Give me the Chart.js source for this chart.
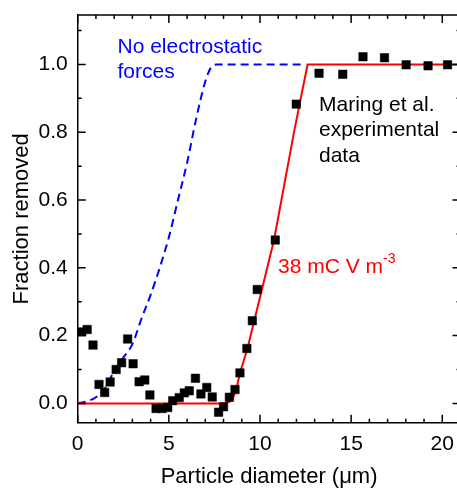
<!DOCTYPE html>
<html>
<head>
<meta charset="utf-8">
<script src="https://cdn.jsdelivr.net/npm/chart.js@4.4.0/dist/chart.umd.min.js"></script>
<style>
html, body { margin: 0; padding: 0; overflow: hidden; background: #fff; }
#wrap { position: relative; width: 457px; height: 490px; overflow: hidden; }
canvas { position: absolute; left: 0; top: 0; }
.note { position: absolute; font: 21px 'Liberation Sans', Arial, sans-serif; line-height: 25.6px; white-space: nowrap; }
.note sup { font-size: 14px; position: relative; top: -10px; vertical-align: baseline; }
</style>
</head>
<body>
<div id="wrap">
  <canvas id="chart" width="467" height="490"></canvas>
  <div class="note" style="left:117.5px; top:32.6px; color:#0000ff;">No electrostatic<br>forces</div>
  <div class="note" style="left:319px; top:90.6px; color:#000;">Maring et al.<br>experimental<br>data</div>
  <div class="note" style="left:278px; top:253.2px; color:#ff0000;">38 mC V m<sup>-3</sup></div>
</div>
<script>
// measured points (Maring et al.)
const expX = [0.22, 0.52, 0.84, 1.17, 1.48, 1.78, 2.11, 2.41, 2.74, 3.04, 3.37, 3.68, 3.96, 4.30,
              4.63, 4.94, 5.21, 5.57, 5.85, 6.12, 6.46, 6.76, 7.08, 7.38, 7.73, 8.00, 8.32, 8.63,
              8.90, 9.28, 9.58, 9.85, 10.84, 11.99, 13.24, 14.54, 15.65, 16.83, 18.02, 19.22, 20.29];
const expY = [0.211, 0.218, 0.172, 0.056, 0.032, 0.063, 0.100, 0.120, 0.190, 0.117, 0.064, 0.069, 0.025, -0.015,
              -0.015, -0.012, 0.008, 0.017, 0.031, 0.037, 0.074, 0.028, 0.047, 0.019, -0.026, -0.010, 0.018, 0.041,
              0.090, 0.162, 0.244, 0.336, 0.482, 0.883, 0.974, 0.971, 1.023, 1.020, 0.999, 0.996, 0.999];

// model with 38 mC V m^-3
const fitX = [0, 8.1, 8.45, 8.7, 8.9, 9.31, 10.77, 11.89, 12.61, 21];
const fitY = [0, 0, 0.008, 0.04, 0.09, 0.161, 0.482, 0.807, 1.0, 1.0];

// model without electrostatic forces
const noEsX = [0, 0.5, 1, 1.5, 2, 2.5, 3, 3.5, 4, 4.5, 5, 5.5, 6, 6.5, 7, 7.3, 7.6, 12.5];
const noEsY = [0, 0.006, 0.018, 0.045, 0.095, 0.135, 0.175, 0.25, 0.32, 0.4, 0.49, 0.6, 0.71, 0.84, 0.95, 0.99, 1.0, 1.0];

const xTicks = [0, 5, 10, 15, 20];
const yTicks = [0, 0.2, 0.4, 0.6, 0.8, 1.0];

const pts = (xs, ys) => xs.map((x, i) => ({ x: x, y: ys[i] }));

Chart.defaults.font.family = "'Liberation Sans', Arial, sans-serif";
Chart.defaults.font.size = 21;
Chart.defaults.color = '#000';

// no automatic room for edge labels, the plot box is fixed
function noPad(s) {
    s.paddingTop = 0;
    s.paddingBottom = 0;
    s.paddingLeft = 0;
    s.paddingRight = 0;
}

// closing frame and inward tick marks
const frame = {
    id: 'frame',
    afterDraw(chart) {
        const { ctx, chartArea: a, scales: { x, y } } = chart;
        ctx.save();
        ctx.strokeStyle = '#000';
        ctx.lineWidth = 1.5;
        ctx.beginPath();
        ctx.moveTo(a.left, a.top);
        ctx.lineTo(a.right, a.top);
        ctx.lineTo(a.right, a.bottom);
        for (let v = 0; v <= x.max; v += 1) {
            const px = x.getPixelForValue(v);
            const len = v % 5 === 0 ? 8 : 4;
            ctx.moveTo(px, a.bottom); ctx.lineTo(px, a.bottom - len);
            ctx.moveTo(px, a.top); ctx.lineTo(px, a.top + len);
        }
        for (let i = 0; i <= 11; i++) {
            const py = y.getPixelForValue(i / 10);
            const len = i % 2 === 0 ? 8 : 4;
            ctx.moveTo(a.left, py); ctx.lineTo(a.left + len, py);
            ctx.moveTo(a.right, py); ctx.lineTo(a.right - len, py);
        }
        ctx.stroke();
        ctx.restore();
    }
};

new Chart(document.getElementById('chart'), {
    type: 'scatter',
    data: {
        datasets: [
            {
                label: 'Maring et al. experimental data',
                data: pts(expX, expY),
                pointStyle: 'rect',
                pointRadius: 6,
                backgroundColor: '#000',
                borderColor: '#000',
                borderWidth: 0.5,
                order: 0
            },
            {
                label: '38 mC V m-3',
                data: pts(fitX, fitY),
                showLine: true,
                borderColor: '#ff0000',
                borderWidth: 2,
                pointRadius: 0,
                tension: 0,
                order: 1
            },
            {
                label: 'No electrostatic forces',
                data: pts(noEsX, noEsY),
                showLine: true,
                borderColor: '#0000ff',
                borderWidth: 2,
                borderDash: [8, 5],
                pointRadius: 0,
                cubicInterpolationMode: 'monotone',
                order: 2
            }
        ]
    },
    options: {
        responsive: false,
        animation: false,
        layout: { padding: { top: 15, right: -5, left: 0, bottom: 0 } },
        plugins: { legend: { display: false }, tooltip: { enabled: false } },
        scales: {
            x: {
                type: 'linear',
                min: 0,
                max: 21,
                afterBuildTicks: s => { s.ticks = xTicks.map(v => ({ value: v })); },
                afterFit: s => { s.height = 67.3; noPad(s); },
                ticks: { padding: 9, maxRotation: 0, autoSkip: false, color: '#000' },
                grid: { display: false, drawTicks: false },
                border: { display: true, color: '#000', width: 1.5 },
                title: { display: true, text: 'Particle diameter (μm)', color: '#000', font: { size: 22 }, padding: { top: 0, bottom: 0 } }
            },
            y: {
                type: 'linear',
                min: -0.057,
                max: 1.146,
                afterBuildTicks: s => { s.ticks = yTicks.map(v => ({ value: v })); },
                afterFit: s => { s.width = 77.7; noPad(s); },
                ticks: { padding: 10, color: '#000', callback: v => v.toFixed(1) },
                grid: { display: false, drawTicks: false },
                border: { display: true, color: '#000', width: 1.5 },
                title: { display: true, text: 'Fraction removed', color: '#000', font: { size: 22 }, padding: { top: 9, bottom: 0 } }
            }
        }
    },
    plugins: [frame]
});
</script>
</body>
</html>
